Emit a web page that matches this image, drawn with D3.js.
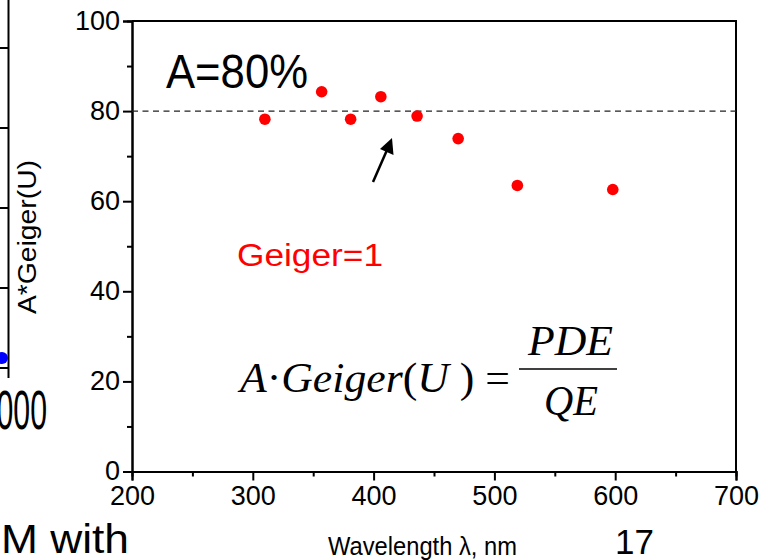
<!DOCTYPE html>
<html><head><meta charset="utf-8">
<script src="https://cdn.jsdelivr.net/npm/d3@7"></script>
<style>body{margin:0;background:#fff}svg{display:block}</style>
</head><body>
<svg id="c" width="770" height="560"></svg>
<script>
const wavelengths = [310, 357, 381, 406, 436, 470, 519, 598];
const aGeiger = [78.2, 84.3, 78.2, 83.2, 78.9, 73.9, 63.5, 62.6];
const xTicks = [200, 300, 400, 500, 600, 700];
const yTicks = [0, 20, 40, 60, 80, 100];
const refLevel = 80;

const svg = d3.select("#c");
const x = d3.scaleLinear().domain([200, 700]).range([132, 736]);
const y = d3.scaleLinear().domain([0, 100]).range([471.5, 21]);
const sans = "Liberation Sans, Arial, sans-serif";
const serif = "Liberation Serif, Times New Roman, serif";

// left partial chart
svg.append("line").attr("x1", 8.5).attr("x2", 8.5).attr("y1", 0).attr("y2", 378)
  .attr("stroke", "#000").attr("stroke-width", 2);
[48, 128, 208, 288, 368].forEach(v => {
  svg.append("line").attr("x1", 0).attr("x2", 8.5).attr("y1", v).attr("y2", v)
    .attr("stroke", "#000").attr("stroke-width", 2);
});
svg.append("circle").attr("cx", 2).attr("cy", 358).attr("r", 6).attr("fill", "#0000ff");
svg.append("text").attr("transform", "translate(36,237) rotate(-90)")
  .attr("text-anchor", "middle").attr("font-family", sans).attr("font-size", 26)
  .attr("textLength", 154).attr("lengthAdjust", "spacingAndGlyphs").text("A*Geiger(U)");
svg.append("text").attr("transform", "translate(47,429) scale(0.55,1)")
  .attr("text-anchor", "end").attr("font-family", sans).attr("font-size", 55).text("1000");
svg.append("text").attr("x", 1).attr("y", 553).attr("font-family", sans).attr("font-size", 40)
  .attr("textLength", 128).attr("lengthAdjust", "spacingAndGlyphs").text("M with");

// axes
const xAxis = d3.axisBottom(x).tickValues(xTicks).tickSize(9).tickPadding(5).tickFormat(d3.format("d"));
const gx = svg.append("g").attr("transform", `translate(0,${y(0)})`).call(xAxis);
const xMinor = d3.axisBottom(x).tickValues([250, 350, 450, 550, 650]).tickSize(5).tickFormat("");
svg.append("g").attr("transform", `translate(0,${y(0)})`).call(xMinor);
const yAxis = d3.axisLeft(y).tickValues(yTicks).tickSize(9).tickPadding(3).tickFormat(d3.format("d"));
const gy = svg.append("g").attr("transform", `translate(${x(200)},0)`).call(yAxis);
const yMinor = d3.axisLeft(y).tickValues([10, 30, 50, 70, 90]).tickSize(5).tickFormat("");
svg.append("g").attr("transform", `translate(${x(200)},0)`).call(yMinor);
svg.selectAll(".domain").attr("stroke", "#000").attr("stroke-width", 2);
svg.selectAll(".tick line").attr("stroke", "#000").attr("stroke-width", 2);
svg.selectAll(".tick text").attr("font-family", sans).attr("font-size", 27).attr("fill", "#000");
gx.selectAll(".tick text").attr("dy", "0.72em");
gy.selectAll(".tick text").attr("dy", "0.3em");

// frame top/right
svg.append("path").attr("d", `M${x(200)},${y(100)}H${x(700)}V${y(0)}`)
  .attr("fill", "none").attr("stroke", "#000").attr("stroke-width", 2);

// reference line
svg.append("line").attr("x1", x(200)).attr("x2", x(700)).attr("y1", y(refLevel)).attr("y2", y(refLevel))
  .attr("stroke", "#222").attr("stroke-width", 1.3).attr("stroke-dasharray", "6,4.5");

// points
svg.selectAll("circle.pt").data(wavelengths).enter().append("circle").attr("class", "pt")
  .attr("cx", d => x(d)).attr("cy", (d, i) => y(aGeiger[i])).attr("r", 5.8).attr("fill", "#ff0000");

// arrow
svg.append("line").attr("x1", 373).attr("y1", 182).attr("x2", 387).attr("y2", 150)
  .attr("stroke", "#000").attr("stroke-width", 2.5);
svg.append("path").attr("d", "M392,138 L393.5,155 L380,149 Z").attr("fill", "#000");

// texts
svg.append("text").attr("x", 166).attr("y", 88).attr("font-family", sans).attr("font-size", 49)
  .attr("textLength", 142).attr("lengthAdjust", "spacingAndGlyphs").text("A=80%");
svg.append("text").attr("x", 237).attr("y", 266).attr("font-family", sans).attr("font-size", 31)
  .attr("fill", "#ff0000").attr("textLength", 146).attr("lengthAdjust", "spacingAndGlyphs").text("Geiger=1");

// formula
const f = svg.append("text").attr("x", 240).attr("y", 392).attr("font-family", serif).attr("font-size", 42)
  .attr("textLength", 270).attr("lengthAdjust", "spacingAndGlyphs");
f.append("tspan").attr("font-style", "italic").text("A");
f.append("tspan").text("\u00B7");
f.append("tspan").attr("font-style", "italic").text("Geiger");
f.append("tspan").text("(");
f.append("tspan").attr("font-style", "italic").text("U");
f.append("tspan").text(" ) =");
svg.append("text").attr("x", 528).attr("y", 355).attr("font-family", serif)
  .attr("font-size", 42).attr("font-style", "italic")
  .attr("textLength", 85).attr("lengthAdjust", "spacingAndGlyphs").text("PDE");
svg.append("line").attr("x1", 519).attr("x2", 617).attr("y1", 369).attr("y2", 369)
  .attr("stroke", "#000").attr("stroke-width", 1.6);
svg.append("text").attr("x", 544).attr("y", 415).attr("font-family", serif)
  .attr("font-size", 42).attr("font-style", "italic")
  .attr("textLength", 54).attr("lengthAdjust", "spacingAndGlyphs").text("QE");

// bottom captions
svg.append("text").attr("x", 328).attr("y", 555).attr("font-family", sans).attr("font-size", 26)
  .attr("textLength", 189).attr("lengthAdjust", "spacingAndGlyphs").text("Wavelength \u03BB, nm");
svg.append("text").attr("x", 615).attr("y", 554).attr("font-family", sans).attr("font-size", 35).text("17");
</script>
</body></html>
